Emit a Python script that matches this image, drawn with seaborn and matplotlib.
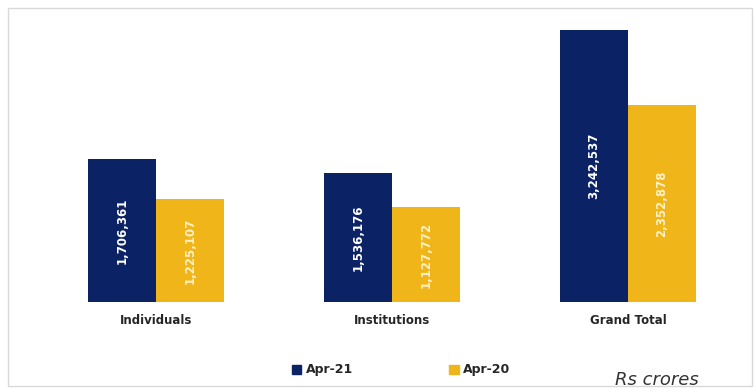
import matplotlib
matplotlib.use("Agg")
import matplotlib.pyplot as plt
from matplotlib.patches import Rectangle
import seaborn as sns
import pandas as pd

categories = ["Individuals", "Institutions", "Grand Total"]
apr21 = [1706361, 1536176, 3242537]
apr20 = [1225107, 1127772, 2352878]
series_names = ["Apr-21", "Apr-20"]
colors = ["#0b2264", "#efb519"]
label_colors = ["#ffffff", "#fdf1c8"]

df = pd.DataFrame({
    "category": categories * 2,
    "period": [series_names[0]] * 3 + [series_names[1]] * 3,
    "value": apr21 + apr20,
})

sns.set_theme(style="white")
plt.rcParams["font.family"] = ["DejaVu Sans"]

fig = plt.figure(figsize=(7.54, 3.88), dpi=100)
W, H = 754, 388

# light frame around the chart
fig.patches.append(Rectangle((8 / W, 2 / H), (W - 10) / W, (H - 10) / H,
                             transform=fig.transFigure, fill=False,
                             edgecolor="#d9d9d9", linewidth=1.0))

ax = fig.add_axes([20 / W, (H - 302) / H, (745 - 20) / W, (302 - 20) / H])
sns.barplot(data=df, x="category", y="value", hue="period",
            hue_order=series_names, palette=colors, width=0.576,
            saturation=1, linewidth=0, ax=ax, legend=False)

ax.set_xlim(-0.576, 2.496)
ax.set_ylim(0, 3361748)
for s in ax.spines.values():
    s.set_visible(False)
ax.set_yticks([])
ax.set_xlabel("")
ax.set_ylabel("")
ax.tick_params(axis="x", length=0, pad=9)
for t in ax.get_xticklabels():
    t.set_fontweight("bold")
    t.set_fontsize(8.5)
    t.set_color("#262626")

# value labels, rotated inside each bar
for container, lc in zip(ax.containers, label_colors):
    ax.bar_label(container, labels=[f"{v:,.0f}" for v in container.datavalues],
                 label_type="center", rotation=90, color=lc,
                 fontsize=8.5, fontweight="bold")

# legend
handles = [Rectangle((0, 0), 1, 1, color=c) for c in colors]
fig.legend(handles, series_names, loc="center", bbox_to_anchor=(401 / W, 1 - 370 / H),
           ncol=2, frameon=False, columnspacing=7.7, handlelength=0.75,
           handleheight=0.75, handletextpad=0.35,
           prop={"weight": "bold", "size": 9})

fig.text(657 / W, 1 - 380 / H, "Rs crores", ha="center", va="center",
         fontsize=13, style="italic", color="#333333")

fig.savefig("out.png", dpi=100)
